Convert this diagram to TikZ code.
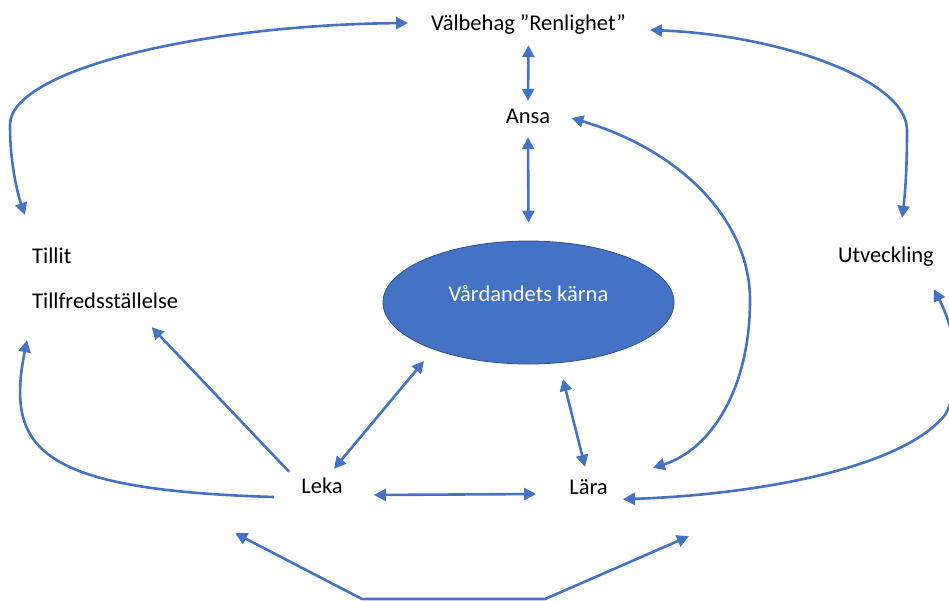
\documentclass[tikz,border=0pt]{standalone}
\usepackage{fontspec}
\setmainfont{Carlito}
\usetikzlibrary{arrows.meta,shapes.geometric}
\definecolor{linkblue}{HTML}{4472C4}
\definecolor{coreedge}{HTML}{2F528F}
\tikzset{
  lbl/.style={font=\fontsize{22.5}{27}\selectfont, text height=15pt, text depth=5pt, inner sep=0pt},
  kernel/.style={ellipse, fill=linkblue, draw=coreedge, line width=0.8pt, text=white,
    minimum width=291pt, minimum height=123pt, inner sep=0pt,
    font=\fontsize{22.5}{27}\selectfont, text height=15pt, text depth=18pt},
  oneway/.style={draw=linkblue, line width=2.6pt, -{Triangle[length=12pt,width=12pt]}},
  twoway/.style={draw=linkblue, line width=2.6pt, {Triangle[length=12pt,width=12pt]}-{Triangle[length=12pt,width=12pt]}},
}
\begin{document}
\begin{tikzpicture}[x=1pt,y=-1pt,line join=round]
%%
\useasboundingbox (0,0) rectangle (949,600);
\node (valbehag) at (528.5,30) [lbl,anchor=base] {Välbehag ”Renlighet”};
  \node (ansa) at (528,123) [lbl,anchor=base] {Ansa};
  \node (tillit) at (32,263) [lbl,anchor=base west] {Tillit};
  \node (tillfr) at (32,308) [lbl,anchor=base west] {Tillfredsställelse};
  \node (utv) at (838,262) [lbl,anchor=base west] {Utveckling};
  \node (core) at (528.5,302.5) [kernel] {Vårdandets kärna};
  \node (leka) at (322,493) [lbl,anchor=base] {Leka};
  \node (lara) at (588.5,494) [lbl,anchor=base] {Lära};
  \coordinate (baseL) at (362,599);
  \coordinate (baseR) at (545,599);
  \draw [twoway] ([shift={(0,10)}]valbehag.south) -- ([shift={(0,-7)}]ansa.north);
  \draw [twoway] ([shift={(0,9)}]ansa.south) -- ([shift={(0,-18)}]core.north);
  \draw [twoway] ([shift={(-104.5,58.5)}]core.center) -- ([shift={(12,-9)}]leka.north);
  \draw [twoway] ([shift={(34.5,76.5)}]core.center) -- ([shift={(-3.5,-12)}]lara.north);
  \draw [twoway] ([shift={(31,7)}]leka.east) -- ([shift={(-33,5)}]lara.west);
  \draw [oneway] ([shift={(-12,-6)}]leka.north west) -- ([shift={(46.5,14)}]tillfr.south);
  \draw [oneway] ([shift={(-27,9)}]leka.west) ..controls (40,490) and (5,450) .. ([shift={(-5,27)}]tillfr.south west);
  \draw [twoway] ([shift={(-23,-2)}]valbehag.west) ..controls (200,25) and (10,70) .. (10,125)
    ..controls (10,165) and (18,195) .. ([shift={(-7,-33)}]tillit.north west);
  \draw [twoway] ([shift={(24,5)}]valbehag.east) ..controls (780,35) and (907,80) .. (907,130)
    ..controls (907,170) and (905,195) .. ([shift={(16,-29)}]utv.north);
  \draw [twoway] ([shift={(21,0)}]ansa.east) ..controls (680,150) and (750,220) .. (750,300)
    ..controls (750,390) and (710,450) .. ([shift={(45,-11)}]lara.north east);
  \draw [twoway] ([shift={(0,22)}]utv.south east) ..controls (955,330) and (965,380) .. (945,415)
    ..controls (900,470) and (750,495) .. ([shift={(15,0)}]lara.south east);
  \draw [twoway] ([shift={(-66,35)}]leka.south west) -- (baseL) -- (baseR) -- ([shift={(81,37)}]lara.south east);
%
\end{tikzpicture}
\end{document}
